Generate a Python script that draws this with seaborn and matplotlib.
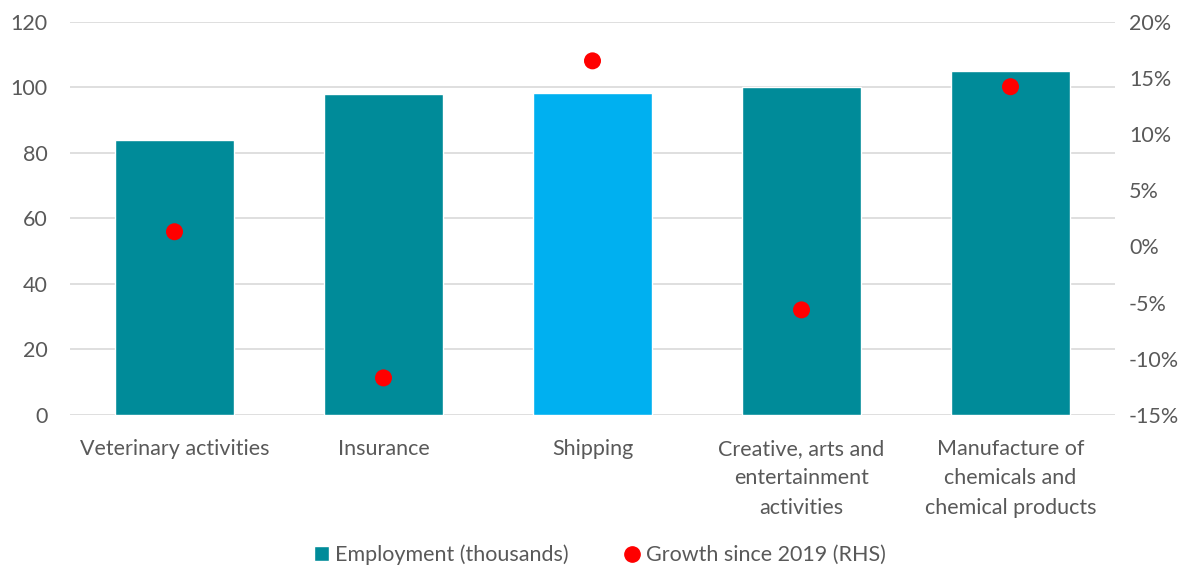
import matplotlib
matplotlib.use("Agg")
import matplotlib.pyplot as plt
import seaborn as sns
import pandas as pd
from matplotlib.ticker import FuncFormatter
from matplotlib.lines import Line2D
from matplotlib.patches import Patch

categories = ["Veterinary activities", "Insurance", "Shipping",
              "Creative, arts and\nentertainment\nactivities",
              "Manufacture of\nchemicals and\nchemical products"]
employment = [84, 98, 98.2, 100, 105]
growth = [1.3, -11.7, 16.5, -5.65, 14.2]
bar_colors = ["#008B99", "#008B99", "#00B0F0", "#008B99", "#008B99"]

sns.set_theme(style="white")
plt.rcParams['font.family'] = ['Lato', 'DejaVu Sans']
text_color = "#595959"
fs = 15.5

df = pd.DataFrame({"category": categories, "employment": employment, "growth": growth})

fig = plt.figure(figsize=(11.93, 5.72), dpi=100)
ax = fig.add_axes([70/1193, 1-415/572, (1115-70)/1193, (415-21.5)/572])

sns.barplot(data=df, x="category", y="employment", hue="category", palette=bar_colors,
            legend=False, width=0.57, ax=ax, saturation=1)
ax.set_ylim(0, 120)
ax.set_yticks(range(0, 121, 20))
ax.set_xlim(-0.5, 4.5)
ax.yaxis.grid(True, color="#D9D9D9", linewidth=1.2)
ax.set_axisbelow(True)
for s in ax.spines.values():
    s.set_visible(False)
ax.set_xlabel("")
ax.set_ylabel("")
ax.tick_params(axis="y", length=0, labelsize=fs, labelcolor=text_color, pad=16)
ax.tick_params(axis="x", length=0, labelsize=fs, labelcolor=text_color, pad=17)
for lbl in ax.get_xticklabels():
    lbl.set_linespacing(1.6)

ax2 = ax.twinx()
sns.scatterplot(data=df, x="category", y="growth", color="#FF0000", s=150,
                edgecolor="none", ax=ax2, zorder=5)
ax2.set_ylim(-15, 20)
ax2.set_yticks(range(-15, 21, 5))
ax2.yaxis.set_major_formatter(FuncFormatter(lambda v, p: f"{int(v)}%"))
ax2.set_ylabel("")
ax2.tick_params(axis="y", length=0, labelsize=fs, labelcolor=text_color, pad=10)
for s in ax2.spines.values():
    s.set_visible(False)
ax2.grid(False)

handles = [Patch(facecolor="#008B99", label="Employment (thousands)"),
           Line2D([], [], marker="o", linestyle="none", color="#FF0000", markersize=11,
                  label="Growth since 2019 (RHS)")]
leg = fig.legend(handles=handles, loc="center", bbox_to_anchor=(600/1193, 1-555/572), ncol=2,
                 frameon=False, fontsize=fs, handlelength=0.7, handletextpad=0.3,
                 columnspacing=2.6, labelcolor=text_color)

fig.savefig("out.png", dpi=100)
